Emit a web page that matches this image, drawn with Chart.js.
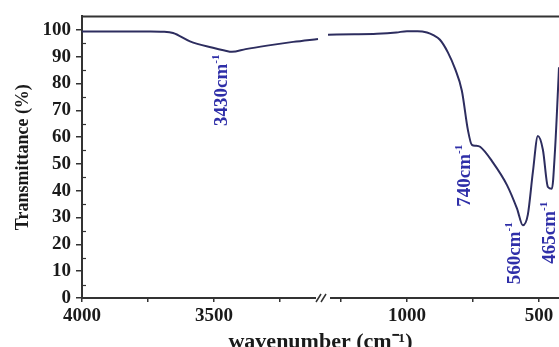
<!DOCTYPE html>
<html><head><meta charset="utf-8">
<script src="https://cdn.jsdelivr.net/npm/chart.js@4/dist/chart.umd.min.js"></script>
<style>html,body{margin:0;padding:0;background:#fff;}canvas{display:block;}</style>
</head><body>
<canvas id="c" width="559" height="347"></canvas>
<script>
// ---- data ----
const wnLeft = [4000, 3900, 3800, 3740, 3693, 3655, 3591, 3504, 3460, 3432, 3380, 3299, 3200, 3106];
const tLeft  = [99.4, 99.4, 99.4, 99.4, 99.3, 98.8, 95.7, 93.3, 92.3, 91.8, 92.8, 94.1, 95.5, 96.6];
const wnRight = [1299, 1200, 1114, 1040, 1000, 960, 924, 900, 875, 845, 818, 792, 769, 754, 740, 723, 674, 621, 583, 561, 542, 523, 504, 485, 466, 451, 439, 428, 424];
const tRight  = [98.2, 98.3, 98.5, 99.0, 99.5, 99.5, 99.0, 98.0, 96.3, 91.6, 85.5, 77.3, 62.6, 57.1, 56.8, 56.4, 50.5, 42.1, 33.3, 27.1, 31.1, 46.9, 60.4, 55.3, 41.4, 40.7, 55.3, 77.3, 86.0];
const xTickValues = [4000, 3750, 3500, 3250, 1250, 1000, 750, 500];
const xTickLabels = ['4000', '3500', '1000', '500'];
const yTickValues = [0, 10, 20, 30, 40, 50, 60, 70, 80, 90, 100];
const annText = ['3430cm', '740cm', '560cm', '465cm'];
const annWn = [3451, 761, 572, 439];
const annT = [90.8, 57.1, 28.2, 35.9];

// broken axis: 4000..3100 then 1300..420
function toAxis(w) { return w >= 2000 ? 4000 - w : 2231 - w; }
function fromAxis(u) { return u <= 915 ? 4000 - u : 2231 - u; }

const FONT = "'Liberation Serif','Times New Roman',serif";
const LINE = '#2d2d5f';
const AX = '#333333';

const extras = {
  id: 'extras',
  afterDraw(chart) {
    const ctx = chart.ctx, a = chart.chartArea;
    const xs = chart.scales.x, ys = chart.scales.y;
    ctx.save();
    // top frame line
    ctx.strokeStyle = AX; ctx.lineWidth = 2;
    ctx.beginPath(); ctx.moveTo(a.left, a.top); ctx.lineTo(a.right, a.top); ctx.stroke();
    // y minor ticks
    ctx.lineWidth = 1.2;
    for (let v = 5; v < 105; v += 10) {
      const py = Math.round(ys.getPixelForValue(v)) + 0.5;
      ctx.beginPath(); ctx.moveTo(a.left, py); ctx.lineTo(a.left + 4, py); ctx.stroke();
    }
    // axis break mark
    const bx = (xs.getPixelForValue(toAxis(3106)) + xs.getPixelForValue(toAxis(1299))) / 2;
    const by = a.bottom;
    ctx.fillStyle = '#fff';
    ctx.fillRect(bx - 7, by - 3, 14, 6);
    ctx.strokeStyle = AX; ctx.lineWidth = 1.5;
    ctx.beginPath();
    ctx.moveTo(bx - 7, by + 4); ctx.lineTo(bx - 2, by - 4);
    ctx.moveTo(bx - 2, by + 4); ctx.lineTo(bx + 3, by - 4);
    ctx.stroke();
    // annotations
    ctx.fillStyle = '#2f2fa8';
    for (let i = 0; i < annText.length; i++) {
      const px = xs.getPixelForValue(toAxis(annWn[i]));
      const py = ys.getPixelForValue(annT[i]);
      ctx.save();
      ctx.translate(px, py);
      ctx.rotate(-Math.PI / 2);
      ctx.textBaseline = 'alphabetic';
      ctx.font = 'bold 11px ' + FONT;
      const sup = '-1';
      const sw = ctx.measureText(sup).width;
      ctx.font = 'bold 19px ' + FONT;
      const mw = ctx.measureText(annText[i]).width;
      ctx.fillText(annText[i], -(mw + sw), 0);
      ctx.font = 'bold 11px ' + FONT;
      ctx.fillText(sup, -sw, -8);
      ctx.restore();
    }
    ctx.restore();
  }
};

new Chart(document.getElementById('c'), {
  type: 'line',
  data: {
    datasets: [
      { data: wnLeft.map((w, i) => ({ x: toAxis(w), y: tLeft[i] })) },
      { data: wnRight.map((w, i) => ({ x: toAxis(w), y: tRight[i] })) }
    ].map(d => Object.assign(d, {
      borderColor: LINE, borderWidth: 2, pointRadius: 0, fill: false,
      cubicInterpolationMode: 'monotone'
    }))
  },
  options: {
    responsive: false, animation: false, devicePixelRatio: 1,
    layout: { padding: { left: 0, right: 0, top: 11, bottom: 0 } },
    plugins: { legend: { display: false }, tooltip: { enabled: false } },
    scales: {
      x: {
        type: 'linear', min: 0, max: 1807,
        afterBuildTicks: s => { s.ticks = xTickValues.map(w => ({ value: toAxis(w) })); },
        afterFit: s => { s.height = 49; },
        ticks: {
          autoSkip: false, maxRotation: 0, padding: 3, color: '#1a1a1a',
          font: { family: FONT, size: 19, weight: 'bold' },
          callback: v => { const w = String(Math.round(fromAxis(v))); return xTickLabels.includes(w) ? w : ''; }
        },
        grid: { drawOnChartArea: false, drawTicks: true, tickLength: 4, color: AX, lineWidth: 1.5 },
        border: { display: true, color: AX, width: 2 },
        title: { display: true, text: 'wavenumber (cm⁻¹)', color: '#1a1a1a',
                 font: { family: FONT, size: 22, weight: 'bold', lineHeight: 1 }, padding: { top: 0, bottom: -6 } }
      },
      y: {
        min: 0, max: 105,
        afterBuildTicks: s => { s.ticks = yTickValues.map(v => ({ value: v })); },
        afterFit: s => { s.width = 82; },
        ticks: { padding: 5, color: '#1a1a1a', font: { family: FONT, size: 19, weight: 'bold' } },
        grid: { drawOnChartArea: false, drawTicks: true, tickLength: 6, color: AX, lineWidth: 1.5 },
        border: { display: true, color: AX, width: 2 },
        title: { display: true, text: 'Transmittance (%)', color: '#1a1a1a',
                 font: { family: FONT, size: 18, weight: 'bold', lineHeight: 1.2 }, padding: { top: 13, bottom: 0 } }
      }
    }
  },
  plugins: [extras]
});
</script>
</body></html>
